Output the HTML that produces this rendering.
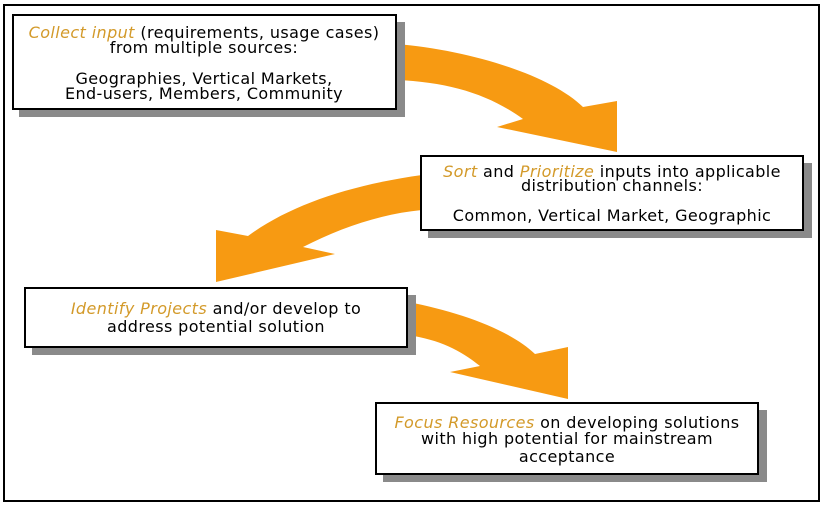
<!DOCTYPE html>
<html><head><meta charset="utf-8"><style>
html,body{margin:0;padding:0;background:#fff;}
svg{display:block;}
text{font-family:"DejaVu Sans","Liberation Sans",sans-serif;font-size:16px;letter-spacing:0.4px;fill:#000;}
.o{fill:#D39A2A;font-style:italic;}
</style></head><body>
<svg width="824" height="505" viewBox="0 0 824 505" xmlns="http://www.w3.org/2000/svg">
<rect x="0" y="0" width="824" height="505" fill="#fff"/>
<rect x="4" y="5" width="815" height="496" fill="none" stroke="#000" stroke-width="2"/>

<g fill="#F79A12">
<path d="M396,44 C470,50 550,75 583,107 L617,101 L617,152 L497,127 L523,119 C490,95 450,82 396,80 Z"/>
<path d="M422,175 C350,185 290,205 248,236 L216,230 L216,282 L335,254 L303,247 C340,228 380,214 422,210 Z"/>
<path d="M408,302 C460,312 510,330 535,354 L568,347 L568,399 L450,372 L480,366 C460,350 440,340 408,335 Z"/>
</g>

<g fill="#8a8a8a">
<rect x="19" y="22" width="386" height="95"/>
<rect x="428" y="163" width="384" height="75"/>
<rect x="32" y="295" width="384" height="60"/>
<rect x="383" y="410" width="384" height="72"/>
</g>

<g fill="#fff" stroke="#000" stroke-width="2">
<rect x="13" y="15" width="383" height="94"/>
<rect x="421" y="156" width="382" height="74"/>
<rect x="25" y="288" width="382" height="59"/>
<rect x="376" y="403" width="382" height="71"/>
</g>

<g text-anchor="middle">
<text x="204" y="38"><tspan class="o">Collect input</tspan> (requirements, usage cases)</text>
<text x="204" y="53">from multiple sources:</text>
<text x="204" y="84">Geographies, Vertical Markets,</text>
<text x="204" y="99">End-users, Members, Community</text>

<text x="612" y="177"><tspan class="o">Sort</tspan> and <tspan class="o">Prioritize</tspan> inputs into applicable</text>
<text x="612" y="191">distribution channels:</text>
<text x="612" y="221">Common, Vertical Market, Geographic</text>

<text x="216" y="314"><tspan class="o">Identify Projects</tspan> and/or develop to</text>
<text x="216" y="332">address potential solution</text>

<text x="567" y="428"><tspan class="o">Focus Resources</tspan> on developing solutions</text>
<text x="567" y="444">with high potential for mainstream</text>
<text x="567" y="462">acceptance</text>
</g>
</svg>
</body></html>
